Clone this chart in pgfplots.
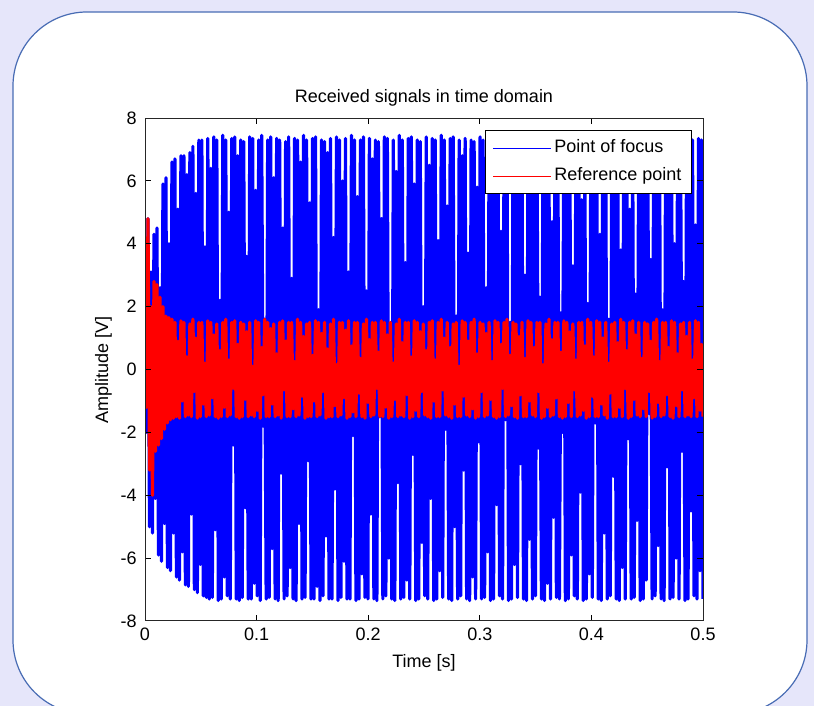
\documentclass[border=0pt]{standalone}
\usepackage{fontspec}
\setmainfont{Liberation Sans}
\usepackage{pgfplots}
\usepackage{pgfplotstable}
\pgfplotsset{compat=1.18}

\definecolor{bgcol}{RGB}{230,230,250}
\definecolor{framecol}{RGB}{72,108,180}

% sampled signals, one value per sample, dt = 0.5/373 s
\pgfplotstableread[row sep=\\, header=false]{
1.2\\ -2.0\\ 4.8\\ -5.0\\ 3.1\\ -5.2\\ 4.3\\ -4.1\\ 4.5\\ -5.9\\ 2.6\\ -6.1\\ 5.9\\ -4.9\\ 6.1\\ -6.3\\ 4.0\\ -6.4\\ 6.6\\ -5.2\\
6.7\\ -6.6\\ 5.1\\ -6.7\\ 6.8\\ -5.8\\ 6.8\\ -6.85\\ 6.2\\ -6.9\\ 6.9\\ -4.6\\ 7.1\\ -7.0\\ 5.6\\ -7.1\\ 7.3\\ -6.2\\ 7.3\\ -7.2\\ 3.9\\ -7.25\\
7.35\\ -7.3\\ 6.4\\ -7.25\\ 7.4\\ -5.1\\ 7.3\\ -7.35\\ 2.2\\ -7.3\\ 7.45\\ -6.6\\ 7.3\\ -7.2\\ 5.0\\ -7.3\\ 7.35\\ -2.4\\ 7.4\\ -7.3\\
6.8\\ -7.35\\ 7.3\\ -7.25\\ 7.25\\ -4.4\\ 3.6\\ -7.3\\ 7.4\\ -7.3\\ 7.35\\ -6.8\\ 5.7\\ -7.2\\ 7.3\\ -7.35\\ 7.45\\ -1.8\\ 1.6\\ -7.3\\
7.3\\ -7.25\\ 7.4\\ -5.7\\ 6.1\\ -7.3\\ 7.35\\ -7.35\\ 7.3\\ -3.3\\ 4.5\\ -7.3\\ 7.25\\ -7.2\\ 7.4\\ -6.3\\ 2.9\\ -7.3\\ 7.35\\ -7.35\\
7.3\\ -4.9\\ 6.6\\ -7.3\\ 7.45\\ -7.25\\ 7.3\\ -2.9\\ 5.3\\ -7.3\\ 7.35\\ -7.3\\ 7.4\\ -6.9\\ 1.9\\ -7.35\\ 7.3\\ -7.2\\ 7.25\\ -5.3\\
6.9\\ -7.3\\ 7.35\\ -7.3\\ 4.2\\ -3.8\\ 7.4\\ -7.35\\ 7.3\\ -7.25\\ 6.0\\ -6.1\\ 7.35\\ -7.3\\ 3.1\\ -7.3\\ 7.45\\ -2.1\\ 7.3\\ -7.35\\
5.5\\ -7.3\\ 7.3\\ -6.5\\ 7.4\\ -7.25\\ 2.5\\ -7.3\\ 7.35\\ -4.6\\ 6.7\\ -7.3\\ 7.3\\ -7.35\\ 7.25\\ -1.5\\ 4.8\\ -7.3\\ 7.4\\ -7.2\\
7.35\\ -6.0\\ 1.4\\ -7.3\\ 7.3\\ -7.35\\ 6.3\\ -3.6\\ 7.45\\ -7.3\\ 7.3\\ -7.25\\ 3.4\\ -6.7\\ 7.35\\ -7.3\\ 7.4\\ -2.7\\ 5.9\\ -7.35\\
7.3\\ -7.3\\ 7.25\\ -5.5\\ 2.0\\ -7.2\\ 7.4\\ -7.3\\ 6.5\\ -4.1\\ 7.35\\ -7.35\\ 7.3\\ -7.3\\ 4.1\\ -6.4\\ 7.45\\ -7.25\\ 7.3\\ -1.9\\
5.2\\ -7.3\\ 7.35\\ -7.35\\ 7.4\\ -5.0\\ 1.7\\ -7.3\\ 7.3\\ -7.2\\ 6.8\\ -3.2\\ 7.35\\ -7.3\\ 3.7\\ -7.35\\ 7.3\\ -6.6\\ 7.25\\ -7.3\\
5.8\\ -2.3\\ 7.4\\ -7.3\\ 7.3\\ -7.25\\ 2.6\\ -5.8\\ 7.35\\ -7.35\\ 6.2\\ -7.3\\ 7.45\\ -4.3\\ 7.3\\ -7.2\\ 4.4\\ -7.3\\ 7.35\\ -1.6\\
7.3\\ -7.35\\ 1.5\\ -7.3\\ 7.4\\ -6.2\\ 6.6\\ -7.25\\ 7.35\\ -3.0\\ 7.3\\ -7.3\\ 3.0\\ -7.35\\ 7.25\\ -5.4\\ 5.6\\ -7.3\\ 7.4\\ -7.2\\
7.35\\ -2.5\\ 2.3\\ -7.3\\ 7.3\\ -7.35\\ 6.9\\ -6.8\\ 7.45\\ -7.3\\ 4.7\\ -4.7\\ 7.3\\ -7.25\\ 7.35\\ -7.3\\ 1.8\\ -2.0\\ 7.4\\ -7.35\\
6.4\\ -7.3\\ 7.3\\ -5.9\\ 3.3\\ -7.2\\ 7.35\\ -7.3\\ 7.25\\ -3.9\\ 5.4\\ -7.35\\ 7.4\\ -7.3\\ 2.1\\ -6.5\\ 7.3\\ -7.25\\ 6.7\\ -1.7\\
7.35\\ -7.3\\ 4.3\\ -7.35\\ 7.45\\ -5.2\\ 7.3\\ -7.3\\ 1.6\\ -7.2\\ 7.35\\ -3.4\\ 6.0\\ -7.3\\ 7.3\\ -7.35\\ 3.8\\ -6.3\\ 7.4\\ -7.3\\
7.3\\ -2.2\\ 5.1\\ -7.3\\ 7.35\\ -7.25\\ 2.4\\ -4.8\\ 7.25\\ -7.35\\ 6.5\\ -7.3\\ 7.4\\ -6.7\\ 7.3\\ -1.4\\ 3.5\\ -7.3\\ 7.35\\ -7.2\\
5.7\\ -5.6\\ 7.3\\ -7.3\\ 1.9\\ -7.35\\ 7.45\\ -3.1\\ 6.8\\ -7.3\\ 7.3\\ -7.25\\ 4.0\\ -6.0\\ 7.35\\ -7.3\\ 7.3\\ -2.6\\ 2.8\\ -7.35\\
7.4\\ -7.3\\ 6.3\\ -4.5\\ 7.3\\ -7.2\\ 4.6\\ -7.3\\ 7.35\\ -6.4\\ 7.3\\ -7.3\\
}\focus

\pgfplotstableread[row sep=\\, header=false]{
0.8\\ -1.2\\ 4.8\\ -3.2\\ 2.0\\ -4.0\\ 2.8\\ -2.6\\ 2.7\\ -2.4\\ 2.3\\ -2.2\\ 2.0\\ -1.9\\ 1.7\\ -1.7\\ 1.65\\ -1.6\\ 1.6\\ -1.55\\
1.5\\ -1.5\\ 0.9\\ -1.55\\ 1.55\\ -1.0\\ 1.5\\ -1.5\\ 0.4\\ -1.45\\ 1.45\\ -1.5\\ 1.6\\ -0.7\\ 1.0\\ -1.55\\ 1.5\\ -1.5\\ 1.5\\ -1.1\\ 0.2\\ -1.5\\
1.55\\ -1.45\\ 1.5\\ -0.9\\ 1.1\\ -1.5\\ 1.45\\ -1.55\\ 0.6\\ -1.5\\ 1.5\\ -1.2\\ 1.6\\ -1.5\\ 0.3\\ -1.45\\ 1.5\\ -0.6\\ 1.55\\ -1.5\\
0.8\\ -1.55\\ 1.5\\ -1.5\\ 1.45\\ -0.95\\ 1.2\\ -1.5\\ 1.5\\ -1.45\\ 0.1\\ -1.5\\ 1.55\\ -1.3\\ 1.5\\ -1.55\\ 0.7\\ -0.8\\ 1.6\\ -1.5\\
1.5\\ -1.5\\ 1.3\\ -1.1\\ 1.45\\ -1.5\\ 0.5\\ -1.45\\ 1.5\\ -1.55\\ 1.55\\ -0.65\\ 0.9\\ -1.5\\ 1.5\\ -1.5\\ 1.5\\ -1.25\\ 0.25\\ -1.5\\
1.6\\ -1.45\\ 1.5\\ -0.85\\ 1.05\\ -1.55\\ 1.45\\ -1.5\\ 1.5\\ -1.5\\ 0.45\\ -1.0\\ 1.55\\ -1.5\\ 1.5\\ -1.45\\ 1.15\\ -0.7\\ 1.5\\ -1.55\\
0.65\\ -1.5\\ 1.45\\ -1.5\\ 1.6\\ -1.15\\ 0.15\\ -1.5\\ 1.5\\ -1.45\\ 1.5\\ -0.9\\ 1.25\\ -1.55\\ 1.55\\ -1.5\\ 0.75\\ -1.35\\ 1.5\\ -1.5\\
1.5\\ -0.75\\ 0.35\\ -1.5\\ 1.45\\ -1.55\\ 1.6\\ -1.05\\ 0.95\\ -1.5\\ 1.5\\ -1.45\\ 1.5\\ -0.6\\ 0.55\\ -1.5\\ 1.55\\ -1.5\\ 1.5\\ -1.2\\
1.1\\ -1.55\\ 1.5\\ -1.5\\ 0.2\\ -0.95\\ 1.45\\ -1.5\\ 1.6\\ -1.45\\ 0.85\\ -1.5\\ 1.5\\ -0.8\\ 1.5\\ -1.55\\ 0.4\\ -1.5\\ 1.55\\ -1.3\\
1.5\\ -1.5\\ 1.2\\ -0.7\\ 1.45\\ -1.45\\ 0.6\\ -1.5\\ 1.5\\ -1.55\\ 1.55\\ -1.0\\ 0.3\\ -1.5\\ 1.5\\ -1.5\\ 1.6\\ -0.65\\ 1.0\\ -1.45\\
1.5\\ -1.5\\ 0.7\\ -1.55\\ 1.45\\ -1.1\\ 1.5\\ -1.5\\ 0.1\\ -1.5\\ 1.55\\ -0.85\\ 1.5\\ -1.45\\ 0.9\\ -1.5\\ 1.5\\ -1.25\\ 1.6\\ -1.55\\
0.5\\ -1.5\\ 1.5\\ -0.7\\ 1.45\\ -1.5\\ 1.15\\ -1.45\\ 1.5\\ -0.95\\ 0.25\\ -1.5\\ 1.55\\ -1.55\\ 1.5\\ -1.5\\ 0.8\\ -0.6\\ 1.5\\ -1.5\\
1.6\\ -1.45\\ 0.45\\ -1.15\\ 1.5\\ -1.5\\ 1.45\\ -1.55\\ 1.05\\ -0.8\\ 1.5\\ -1.5\\ 0.35\\ -1.5\\ 1.55\\ -1.0\\ 1.5\\ -1.45\\ 0.7\\ -1.5\\
1.5\\ -0.7\\ 1.5\\ -1.55\\ 0.15\\ -1.5\\ 1.45\\ -1.2\\ 1.6\\ -1.5\\ 0.95\\ -1.45\\ 1.5\\ -0.9\\ 1.5\\ -1.5\\ 0.55\\ -1.55\\ 1.55\\ -1.5\\
1.5\\ -1.05\\ 1.2\\ -1.5\\ 1.45\\ -0.65\\ 0.3\\ -1.5\\ 1.5\\ -1.45\\ 1.5\\ -1.3\\ 0.75\\ -1.55\\ 1.6\\ -1.5\\ 1.5\\ -0.85\\ 0.4\\ -1.5\\
1.55\\ -1.5\\ 1.5\\ -1.1\\ 1.0\\ -1.45\\ 1.5\\ -1.55\\ 0.2\\ -0.75\\ 1.45\\ -1.5\\ 1.5\\ -1.5\\ 0.85\\ -1.2\\ 1.6\\ -1.5\\ 1.5\\ -0.6\\
0.6\\ -1.55\\ 1.5\\ -1.5\\ 1.55\\ -0.95\\ 1.1\\ -1.45\\ 1.5\\ -1.5\\ 0.35\\ -1.25\\ 1.5\\ -1.5\\ 1.45\\ -0.7\\ 0.9\\ -1.55\\ 1.5\\ -1.5\\
1.6\\ -1.05\\ 0.25\\ -1.5\\ 1.5\\ -1.45\\ 1.5\\ -0.8\\ 0.7\\ -1.5\\ 1.55\\ -1.55\\ 1.5\\ -1.15\\ 0.5\\ -1.5\\ 1.45\\ -0.65\\ 1.5\\ -1.5\\
1.05\\ -1.45\\ 1.5\\ -1.5\\ 0.3\\ -0.9\\ 1.55\\ -1.5\\ 1.5\\ -1.3\\ 0.8\\ -1.5\\
}\refpt

\begin{document}
\fontsize{9}{11}\selectfont
\begin{tikzpicture}
\useasboundingbox (0,0) rectangle (407pt,353pt);
\begin{scope}
  \clip (0,0) rectangle (407pt,353pt);
  \fill[bgcol] (0,0) rectangle (407pt,353pt);
  \filldraw[fill=white, draw=framecol, line width=0.6pt, rounded corners=37pt]
    (6.5pt,-4pt) rectangle (403.5pt,347pt);
\end{scope}
\begin{axis}[
  at={(72.5pt,42.5pt)}, anchor=south west,
  scale only axis, width=279pt, height=251.5pt,
  xmin=0, xmax=0.5, ymin=-8, ymax=8,
  xtick={0,0.1,0.2,0.3,0.4,0.5},
  xticklabels={0,0.1,0.2,0.3,0.4,0.5},
  ytick={-8,-6,-4,-2,0,2,4,6,8},
  yticklabels={-8,-6,-4,-2,0,2,4,6,8},
  tick align=inside, major tick length=3pt,
  tick style={black, line width=0.5pt},
  axis line style={black!85, line width=0.5pt},
  axis on top,
  xticklabel style={anchor=base, yshift=-10pt},
  yticklabel style={anchor=east, xshift=-1pt},
  title={Received signals in time domain},
  title style={at={(axis description cs:0.5,1.006)}, anchor=base},
  xlabel={Time [s]},
  xlabel style={at={(axis description cs:0.5,-0.0915)}, anchor=base},
  ylabel={Amplitude [V]},
  ylabel style={at={(axis description cs:-0.0663,0.5)}, anchor=base, rotate=0},
  legend cell align=left,
  legend style={at={(axis description cs:1,1)}, anchor=north east,
    xshift=-5.5pt, yshift=-6pt, draw=black, line width=0.5pt, fill=white,
    inner xsep=3.75pt, inner ysep=3.25pt, row sep=3pt,
    nodes={inner sep=1.25pt, text height=6.5pt, text depth=2pt}},
  legend image code/.code={\draw[#1, line width=0.5pt] (0pt,0pt) -- (29pt,0pt);},
]
\addplot[blue, line width=1.6pt, line join=round] table[x expr=\coordindex*0.00134048, y index=0] {\focus};
\addlegendentry{Point of focus}
\addplot[red, line width=1.6pt, line join=round] table[x expr=\coordindex*0.00134048, y index=0] {\refpt};
\addlegendentry{Reference point}
\end{axis}
\end{tikzpicture}
\end{document}
